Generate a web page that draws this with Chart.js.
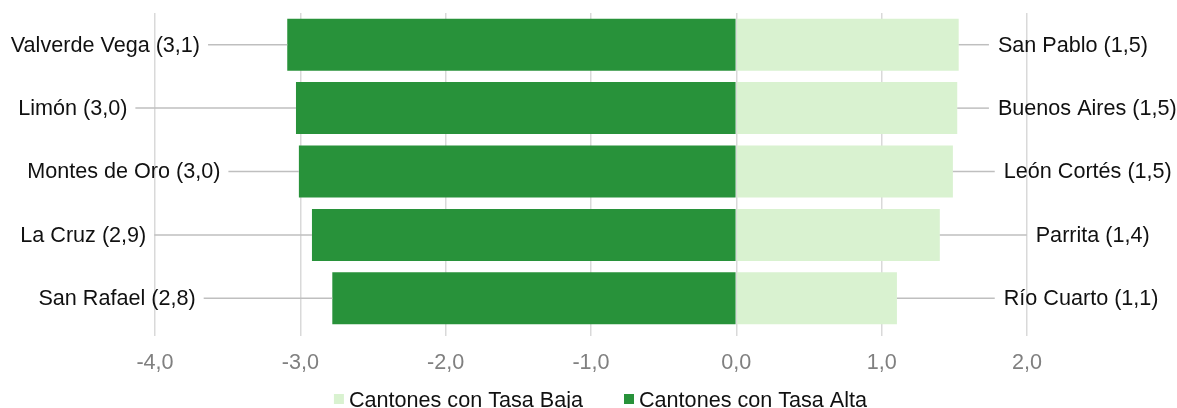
<!DOCTYPE html>
<html><head><meta charset="utf-8">
<script src="https://cdn.jsdelivr.net/npm/chart.js@4"></script>
<style>html,body{margin:0;padding:0;background:#fff}#wrap{width:1177px;height:408px;position:relative}</style>
</head><body><div id="wrap"><canvas id="c"></canvas></div>
<script>
// ---- data ----
const rows = ['1','2','3','4','5'];
const altaNames = ['Valverde Vega','Limón','Montes de Oro','La Cruz','San Rafael'];
const altaValues = [-3.09,-3.03,-3.01,-2.92,-2.78];
const bajaNames = ['San Pablo','Buenos Aires','León Cortés','Parrita','Río Cuarto'];
const bajaValues = [1.53,1.52,1.49,1.40,1.105];
const xTicks = [-4,-3,-2,-1,0,1,2];
const seriesNames = ['Cantones con Tasa Baja','Cantones con Tasa Alta'];
// callout text anchors (axis units)
const altaLabelAt = [-3.69,-4.19,-3.55,-4.06,-3.72];
const bajaLabelAt = [1.80,1.80,1.84,2.06,1.84];

const FONT = '"Liberation Sans", Arial, sans-serif';
const FS = 21.6;
const LIGHT = '#D9F2D0', DARK = '#28923A';
const fmt = v => v.toFixed(1).replace('.', ',');

const calloutPlugin = {
  id: 'callouts',
  afterDatasetsDraw(chart) {
    const {ctx, scales: {x}} = chart;
    const metaB = chart.getDatasetMeta(0), metaA = chart.getDatasetMeta(1);
    ctx.save();
    ctx.font = FS + 'px ' + FONT;
    ctx.textBaseline = 'middle';
    ctx.lineWidth = 1.5;
    ctx.strokeStyle = '#BFBFBF';
    rows.forEach((r, i) => {
      const ba = metaA.data[i], bb = metaB.data[i];
      const y = ba.y;
      // left (alta)
      const t1 = altaNames[i] + ' (' + fmt(Math.abs(altaValues[i])) + ')';
      const lx = x.getPixelForValue(altaLabelAt[i]);
      ctx.beginPath(); ctx.moveTo(lx + 8, y); ctx.lineTo(ba.x, y); ctx.stroke();
      ctx.fillStyle = '#111'; ctx.textAlign = 'right';
      ctx.fillText(t1, lx, y + 1);
      // right (baja)
      const t2 = bajaNames[i] + ' (' + fmt(bajaValues[i]) + ')';
      const rx = x.getPixelForValue(bajaLabelAt[i]);
      ctx.beginPath(); ctx.moveTo(bb.x, bb.y); ctx.lineTo(rx - 9, y); ctx.stroke();
      ctx.textAlign = 'left';
      ctx.fillText(t2, rx, y + 1);
    });
    ctx.restore();
  }
};

const legendPlugin = {
  id: 'bottomLegend',
  afterDraw(chart) {
    const ctx = chart.ctx;
    ctx.save();
    ctx.font = FS + 'px ' + FONT;
    ctx.textBaseline = 'alphabetic';
    ctx.textAlign = 'left';
    const colors = [LIGHT, DARK];
    const box = 10, gap = 5, between = 41;
    const widths = seriesNames.map(s => ctx.measureText(s).width);
    const total = widths.reduce((a, w) => a + box + gap + w, 0) + between * (seriesNames.length - 1);
    let cx = 600.5 - total / 2;
    seriesNames.forEach((s, i) => {
      ctx.fillStyle = colors[i];
      ctx.fillRect(cx, 394, box, box);
      ctx.fillStyle = '#111';
      ctx.fillText(s, cx + box + gap, 407);
      cx += box + gap + widths[i] + between;
    });
    ctx.restore();
  }
};

new Chart(document.getElementById('c'), {
  type: 'bar',
  data: {
    labels: rows,
    datasets: [
      {label: seriesNames[0], data: bajaValues, backgroundColor: LIGHT, barPercentage: 0.82, categoryPercentage: 1},
      {label: seriesNames[1], data: altaValues, backgroundColor: DARK, barPercentage: 0.82, categoryPercentage: 1}
    ]
  },
  options: {
    indexAxis: 'y',
    responsive: true,
    maintainAspectRatio: false,
    animation: false,
    layout: {padding: {left: 155, right: 150, top: 13, bottom: 18}},
    plugins: {legend: {display: false}, tooltip: {enabled: false}},
    scales: {
      x: {
        stacked: true,
        min: -4, max: 2,
        afterBuildTicks: axis => { axis.ticks = xTicks.map(v => ({value: v})); },
        ticks: {
          callback: v => fmt(v),
          color: '#808080',
          font: {family: FONT, size: FS},
          padding: 14,
          maxRotation: 0
        },
        grid: {color: '#D9D9D9', lineWidth: 1.5, drawTicks: true, tickLength: 6},
        border: {display: false}
      },
      y: {
        stacked: true,
        display: false
      }
    }
  },
  plugins: [calloutPlugin, legendPlugin]
});
</script>
</body></html>
